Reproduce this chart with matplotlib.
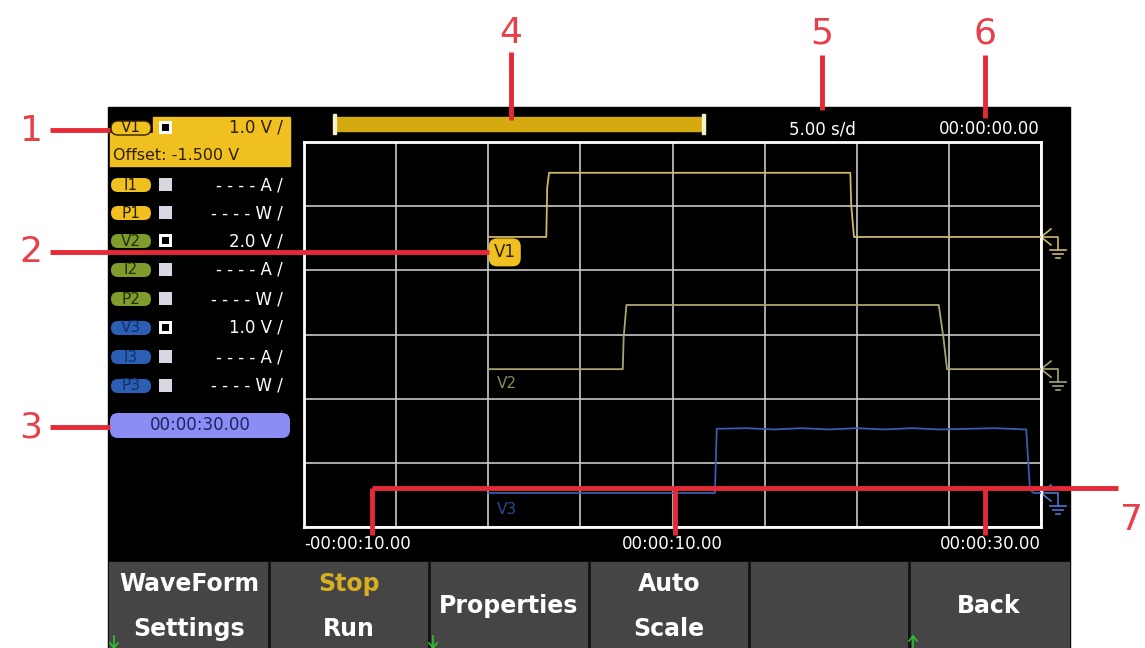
import matplotlib
matplotlib.use("Agg")
import matplotlib.pyplot as plt
from matplotlib.patches import Rectangle, FancyBboxPatch

# ---- data ----
# time in seconds, level in volts
v1_time = [0, 3.15, 3.2, 3.3, 19.65, 19.7, 19.85, 30]
v1_volt = [0, 0, 0.77, 1.0, 1.0, 0.5, 0, 0]
v2_time = [0, 7.3, 7.35, 7.5, 24.45, 24.7, 24.9, 30]
v2_volt = [0, 0, 1.0, 2.0, 2.0, 1.0, 0, 0]
v3_time = [0, 12.3, 12.4, 14, 15.5, 17, 18.5, 20, 21.5, 23, 24.5, 26, 27.5, 29.2, 29.4, 29.6, 30]
v3_volt = [0, 0, 1.0, 1.01, 0.99, 1.01, 0.99, 1.01, 0.99, 1.01, 0.99, 1.0, 1.01, 0.99, 0.05, 0, 0]

volts_per_div = [1.0, 2.0, 1.0]
trace_names = ["V1", "V2", "V3"]
time_labels = ["-00:00:10.00", "00:00:10.00", "00:00:30.00"]
time_label_pos = [-10, 10, 30]
sec_per_div = 5.0

panel_names = ["V1", "I1", "P1", "V2", "I2", "P2", "V3", "I3", "P3"]
panel_values = ["1.0 V /", "- - - - A /", "- - - - W /", "2.0 V /", "- - - - A /",
                "- - - - W /", "1.0 V /", "- - - - A /", "- - - - W /"]
offset_text = "Offset: -1.500 V"
record_time = "00:00:30.00"
timebase_text = "5.00 s/d"
clock_text = "00:00:00.00"
softkeys = [("WaveForm", "Settings"), ("Stop", "Run"), ("Properties",), ("Auto", "Scale"), (), ("Back",)]

W, H = 1145, 648
fig = plt.figure(figsize=(W / 100, H / 100), dpi=100)
fig.patch.set_facecolor("white")

bg = fig.add_axes([0, 0, 1, 1])
bg.set_xlim(0, W)
bg.set_ylim(H, 0)
bg.axis("off")

# screen
bg.add_patch(Rectangle((108, 107), 962, 541, color="black", zorder=0))

ch_color = ["#f0c020", "#7f9c2c", "#2b5fb4"]
trace_color = ["#cdb866", "#a8a470", "#3a5cb0"]
ch_text = ["#2a2000", "#1e3000", "#10306a"]

# plot area
L, R, T, B = 304, 1041, 142, 527
ax = fig.add_axes([L / W, 1 - B / H, (R - L) / W, (B - T) / H])
ax.set_facecolor("black")
ax.set_xlim(-10, 30)
ax.set_ylim(0, 6)
ax.set_xticks([-10 + sec_per_div * i for i in range(9)])
ax.set_yticks(range(7))
ax.grid(True, color="#c8c8c8", lw=1.2)
ax.tick_params(length=0, labelbottom=False, labelleft=False)
for s in ax.spines.values():
    s.set_color("white")
    s.set_linewidth(2)

ref_div = [4.52, 2.46, 0.53]   # ground reference position (divisions)
series = [(v1_time, v1_volt), (v2_time, v2_volt), (v3_time, v3_volt)]
for i, (t, v) in enumerate(series):
    y = [ref_div[i] + val / volts_per_div[i] for val in v]
    ax.plot(t, y, color=trace_color[i], lw=1.3, zorder=3)

# trace labels
ax.text(0.3, ref_div[0] - 0.24, "V1", color=ch_text[0], fontsize=12, va="center", ha="left", zorder=5,
        bbox=dict(boxstyle="round,pad=0.3,rounding_size=0.5", fc=ch_color[0], ec="none"))
ax.text(0.45, ref_div[1] - 0.22, "V2", color="#8c8a52", fontsize=11, va="center", ha="left")
ax.text(0.45, ref_div[2] - 0.25, "V3", color="#2a4a90", fontsize=11, va="center", ha="left")

# time labels
for lab, pos, ha in zip(time_labels, time_label_pos, ["left", "center", "right"]):
    ax.text(pos, -0.27, lab, color="white", fontsize=12, ha=ha, va="center", clip_on=False)

# ground markers
for i in range(3):
    y = B - ref_div[i] * (B - T) / 6
    c = trace_color[i] if i < 2 else "#4a78d0"
    kw = dict(color=c, lw=1.2)
    bg.plot([R + 10, R, R + 10], [y - 8, y, y + 8], **kw)
    bg.plot([R, R + 17, R + 17], [y, y, y + 13], **kw)
    bg.plot([R + 9, R + 25], [y + 13, y + 13], **kw)
    bg.plot([R + 12, R + 22], [y + 17, y + 17], **kw)
    bg.plot([R + 15, R + 19], [y + 21, y + 21], **kw)

# top bar
bg.add_patch(Rectangle((335, 117), 368, 14, color="#d4aa10"))
bg.add_patch(Rectangle((333, 114), 3, 20, color="#f4f0c8"))
bg.add_patch(Rectangle((702, 114), 3, 20, color="#f4f0c8"))
bg.text(822, 129, timebase_text, color="white", fontsize=12, ha="center", va="center")
bg.text(1040, 129, clock_text, color="white", fontsize=12, ha="right", va="center")

# left panel
bg.add_patch(Rectangle((153, 117), 137, 17, color=ch_color[0]))
bg.add_patch(Rectangle((110, 133), 180, 33, color=ch_color[0]))
bg.text(113, 156, offset_text, color="#2a2000", fontsize=11.5, ha="left", va="center")
row_y = [128, 185, 213, 241, 270, 299, 328, 357, 386]
for k, (name, val) in enumerate(zip(panel_names, panel_values)):
    y = row_y[k]
    g = k // 3
    bg.add_patch(FancyBboxPatch((111, y - 7), 40, 14, boxstyle="round,pad=0,rounding_size=7",
                                fc=ch_color[g], ec="#302000" if k == 0 else "none", lw=1))
    bg.text(131, y, name, color=ch_text[g], fontsize=11, ha="center", va="center")
    if name.startswith("V"):
        bg.add_patch(Rectangle((159, y - 7), 13, 13, fc="white", ec="none"))
        bg.add_patch(Rectangle((162, y - 4), 7, 7, fc="black", ec="none"))
    else:
        bg.add_patch(Rectangle((159, y - 7), 13, 13, fc="#d8d8e2", ec="none"))
    bg.text(283, y, val, color="#2a2000" if k == 0 else "white", fontsize=12, ha="right", va="center")

bg.add_patch(FancyBboxPatch((110, 413), 180, 25, boxstyle="round,pad=0,rounding_size=8",
                            fc="#8c8cf5", ec="none"))
bg.text(200, 425, record_time, color="#202060", fontsize=12, ha="center", va="center")

# soft keys
key_font = ["Liberation Sans Narrow", "DejaVu Sans"]
bg.add_patch(Rectangle((109, 562), 960, 86, color="#454545"))
for i, keys in enumerate(softkeys):
    x0 = 109 + 160 * i
    if i:
        bg.plot([x0, x0], [562, 648], color="#111111", lw=2)
    cx = x0 + 80
    if len(keys) == 2:
        bg.text(cx, 584, keys[0], color="#d8b020" if keys[0] == "Stop" else "white",
                fontsize=17, fontweight="bold", ha="center", va="center", family=key_font)
        bg.text(cx, 629, keys[1], color="white", fontsize=17, fontweight="bold",
                ha="center", va="center", family=key_font)
    elif len(keys) == 1:
        bg.text(cx, 606, keys[0], color="white", fontsize=17, fontweight="bold",
                ha="center", va="center", family=key_font)
for gx, up in [(114, False), (433, False), (913, True)]:
    bg.plot([gx, gx], [636, 648], color="#30c030", lw=1.2)
    if up:
        bg.plot([gx - 4, gx, gx + 4], [641, 636, 641], color="#30c030", lw=1.2)
    else:
        bg.plot([gx - 4, gx, gx + 4], [643, 648, 643], color="#30c030", lw=1.2)

# red callouts, drawn on top of everything
top = fig.add_axes([0, 0, 1, 1])
top.set_xlim(0, W)
top.set_ylim(H, 0)
top.axis("off")
top.patch.set_alpha(0)

red = "#e42a36"
rk = dict(color=red, lw=3.5, solid_capstyle="butt")
nk = dict(color="#e8404a", fontsize=26, ha="center", va="center")
top.plot([50, 110], [130, 130], **rk)
top.text(31, 131, "1", **nk)
top.plot([50, 489], [252, 252], **rk)
top.text(31, 252, "2", **nk)
top.plot([50, 110], [427, 427], **rk)
top.text(31, 428, "3", **nk)
top.plot([511, 511], [52, 120], **rk)
top.text(511, 33, "4", **nk)
top.plot([822, 822], [55, 110], **rk)
top.text(822, 33, "5", **nk)
top.plot([985, 985], [55, 118], **rk)
top.text(985, 33, "6", **nk)
top.plot([372, 1118], [488, 488], **rk)
for vx in [372, 675, 985]:
    top.plot([vx, vx], [488, 535], **rk)
top.text(1143, 520, "7", color="#e8404a", fontsize=26, ha="right", va="center")

fig.savefig("out.png", dpi=100, facecolor="white")
